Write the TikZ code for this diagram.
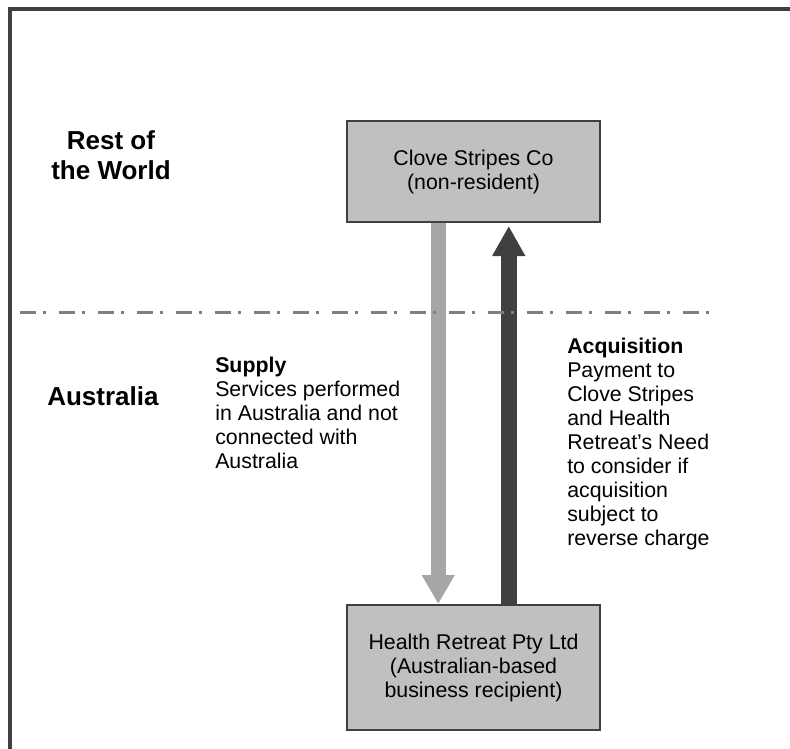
\documentclass[tikz,border=0pt]{standalone}
\usepackage{fontspec}
\setmainfont{Liberation Sans}
\usepackage{xcolor}
\usepackage{tikz}
\usetikzlibrary{arrows.meta, positioning, backgrounds}

\definecolor{boxgrey}{HTML}{C0C0C0}
\definecolor{darkline}{HTML}{404040}
\definecolor{supplygrey}{HTML}{A6A6A6}
\definecolor{borderline}{HTML}{808080}

\begin{document}
\begin{tikzpicture}[x=0.75pt, y=-0.75pt, node distance=372pt]
\tikzstyle{entity} = [rectangle, minimum width=189.75pt, minimum height=75.75pt, align=center, draw=darkline, line width=1.5pt, fill=boxgrey, font=\fontsize{16pt}{18pt}\selectfont]
\tikzstyle{region} = [inner sep=0pt, align=center, font=\fontsize{19.5pt}{23pt}\selectfont\bfseries]
\tikzstyle{note} = [inner sep=0pt, align=left, anchor=north west, font=\fontsize{16pt}{18pt}\selectfont]
\tikzstyle{supply} = [line width=11.25pt, supplygrey, -{Triangle[width=23.25pt, length=21.75pt]}]
\tikzstyle{payment} = [line width=12pt, darkline, shorten >=2.25pt, -{Triangle[width=23.25pt, length=22.5pt]}]

\useasboundingbox (0,0) rectangle (790,749);

% outer frame, only top and left show
\draw[darkline, line width=2.6pt] (790,9) -| (10,749);

% border between the two regions
\draw[borderline, line width=2.25pt, dash pattern=on 12pt off 5.25pt on 2.25pt off 9.75pt] (20,312) -- (712,312);

\node (world) [region, anchor=north] at (111,130) {Rest of\\the World};
\node (aus) [region, anchor=base west] at (47,405) {Australia};

\node (clove) [entity] at (473.5,171.5) {Clove Stripes Co\\(non-resident)};
\node (health) [entity, minimum height=93.75pt, below of=clove] {Health Retreat Pty Ltd\\(Australian-based\\business recipient)};

\node (supply) [note] at (215,357) {\textbf{Supply}\\Services performed\\in Australia and not\\connected with\\Australia};
\node (acq) [note] at (567,338) {\textbf{Acquisition}\\Payment to\\Clove Stripes\\and Health\\Retreat’s Need\\to consider if\\acquisition\\subject to\\reverse charge};

\begin{scope}[on background layer]
\draw [supply] ([xshift=-26.44pt]clove.south) -- ([xshift=-26.44pt]health.north);
\draw [payment] ([xshift=26.44pt]health.north) -- ([xshift=26.44pt]clove.south);
\end{scope}
\end{tikzpicture}
\end{document}
